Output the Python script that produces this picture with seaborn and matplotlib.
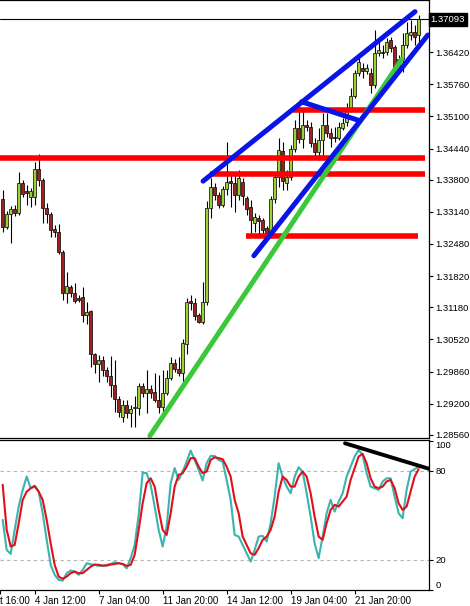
import matplotlib
matplotlib.use('Agg')
import matplotlib.pyplot as plt
import seaborn as sns

# H4 candles (open, high, low, close)
opens = [1.3340, 1.3283, 1.3310, 1.3320, 1.3312, 1.3373, 1.3357, 1.3344, 1.3344, 1.3402,
         1.3379, 1.3322, 1.3310, 1.3279, 1.3273, 1.3232, 1.3147, 1.3160, 1.3147, 1.3137,
         1.3139, 1.3102, 1.3110, 1.3022, 1.3002, 1.3010, 1.2989, 1.2977, 1.2959, 1.2930,
         1.2893, 1.2917, 1.2901, 1.2911, 1.2911, 1.2956, 1.2942, 1.2950, 1.2944, 1.2928,
         1.2913, 1.2942, 1.2973, 1.3004, 1.2991, 1.2983, 1.3043, 1.3131, 1.3127, 1.3102,
         1.3088, 1.3129, 1.3322, 1.3365, 1.3349, 1.3328, 1.3361, 1.3377, 1.3373, 1.3349,
         1.3375, 1.3342, 1.3324, 1.3291, 1.3301, 1.3297, 1.3281, 1.3271, 1.3340, 1.3386,
         1.3439, 1.3373, 1.3386, 1.3443, 1.3486, 1.3464, 1.3492, 1.3488, 1.3455, 1.3437,
         1.3461, 1.3492, 1.3476, 1.3468, 1.3466, 1.3486, 1.3498, 1.3527, 1.3552, 1.3599,
         1.3609, 1.3603, 1.3599, 1.3574, 1.3640, 1.3642, 1.3642, 1.3667, 1.3652, 1.3611,
         1.3628, 1.3657, 1.3677, 1.3683, 1.3677]
highs = [1.3359, 1.3316, 1.3326, 1.3328, 1.3396, 1.3379, 1.3369, 1.3363, 1.3416, 1.3433,
         1.3383, 1.3332, 1.3314, 1.3287, 1.3289, 1.3235, 1.3191, 1.3164, 1.3168, 1.3143,
         1.3160, 1.3129, 1.3112, 1.3024, 1.3020, 1.3018, 1.2995, 1.3018, 1.3010, 1.2936,
         1.2928, 1.2928, 1.2917, 1.2936, 1.2963, 1.2963, 1.2989, 1.2959, 1.2983, 1.2979,
         1.2989, 1.2989, 1.3016, 1.3012, 1.3016, 1.3053, 1.3137, 1.3143, 1.3137, 1.3106,
         1.3170, 1.3336, 1.3383, 1.3373, 1.3355, 1.3367, 1.3457, 1.3394, 1.3390, 1.3400,
         1.3383, 1.3347, 1.3338, 1.3312, 1.3308, 1.3301, 1.3285, 1.3347, 1.3396, 1.3466,
         1.3457, 1.3400, 1.3451, 1.3503, 1.3533, 1.3523, 1.3503, 1.3498, 1.3466, 1.3486,
         1.3517, 1.3517, 1.3486, 1.3488, 1.3498, 1.3507, 1.3537, 1.3568, 1.3605, 1.3630,
         1.3620, 1.3618, 1.3609, 1.3687, 1.3671, 1.3657, 1.3671, 1.3673, 1.3657, 1.3636,
         1.3681, 1.3704, 1.3708, 1.3698, 1.3718]
lows = [1.3273, 1.3279, 1.3250, 1.3305, 1.3308, 1.3344, 1.3328, 1.3324, 1.3328, 1.3367,
        1.3291, 1.3291, 1.3262, 1.3262, 1.3227, 1.3133, 1.3127, 1.3139, 1.3127, 1.3129,
        1.3088, 1.3084, 1.2995, 1.2983, 1.2965, 1.2977, 1.2965, 1.2934, 1.2903, 1.2893,
        1.2883, 1.2891, 1.2872, 1.2872, 1.2897, 1.2934, 1.2901, 1.2932, 1.2924, 1.2901,
        1.2903, 1.2938, 1.2969, 1.2985, 1.2977, 1.2963, 1.3022, 1.3113, 1.3092, 1.3086,
        1.3084, 1.3123, 1.3301, 1.3338, 1.3322, 1.3324, 1.3349, 1.3324, 1.3314, 1.3338,
        1.3328, 1.3308, 1.3271, 1.3273, 1.3262, 1.3266, 1.3264, 1.3264, 1.3332, 1.3365,
        1.3359, 1.3359, 1.3379, 1.3437, 1.3455, 1.3445, 1.3480, 1.3447, 1.3427, 1.3420,
        1.3420, 1.3468, 1.3447, 1.3457, 1.3461, 1.3482, 1.3490, 1.3519, 1.3548, 1.3593,
        1.3589, 1.3597, 1.3558, 1.3568, 1.3634, 1.3630, 1.3636, 1.3642, 1.3591, 1.3601,
        1.3601, 1.3650, 1.3667, 1.3657, 1.3663]
closes = [1.3283, 1.3310, 1.3320, 1.3312, 1.3373, 1.3351, 1.3353, 1.3357, 1.3402, 1.3379,
          1.3322, 1.3310, 1.3277, 1.3273, 1.3232, 1.3147, 1.3162, 1.3147, 1.3131, 1.3133,
          1.3102, 1.3108, 1.3022, 1.3002, 1.3010, 1.2989, 1.2977, 1.2959, 1.2930, 1.2903,
          1.2917, 1.2901, 1.2909, 1.2913, 1.2956, 1.2942, 1.2950, 1.2942, 1.2928, 1.2913,
          1.2942, 1.2973, 1.3004, 1.2991, 1.2983, 1.3045, 1.3129, 1.3127, 1.3100, 1.3088,
          1.3129, 1.3322, 1.3365, 1.3349, 1.3328, 1.3361, 1.3375, 1.3373, 1.3349, 1.3383,
          1.3347, 1.3320, 1.3297, 1.3303, 1.3295, 1.3277, 1.3271, 1.3340, 1.3386, 1.3441,
          1.3377, 1.3386, 1.3443, 1.3486, 1.3464, 1.3492, 1.3488, 1.3455, 1.3437, 1.3461,
          1.3492, 1.3476, 1.3466, 1.3466, 1.3488, 1.3496, 1.3527, 1.3552, 1.3599, 1.3622,
          1.3603, 1.3609, 1.3574, 1.3640, 1.3646, 1.3640, 1.3663, 1.3650, 1.3611, 1.3628,
          1.3657, 1.3681, 1.3683, 1.3673, 1.37093]

# Stochastic oscillator: main (%K) and signal (%D)
stoch_k = [46.9, 26.7, 24.1, 40.2, 55.9, 67.1, 76.0, 68.2, 69.3, 65.9,
           51.4, 33.5, 16.7, 10.0, 6.6, 6.1, 11.1, 12.9, 12.2, 10.0,
           13.3, 17.8, 17.1, 16.7, 16.0, 16.0, 16.7, 17.3, 18.5, 17.8,
           17.1, 14.4, 21.2, 30.1, 50.3, 78.7, 78.3, 70.4, 55.9, 40.2,
           29.0, 42.4, 71.6, 81.7, 73.8, 79.4, 86.1, 93.5, 87.2, 80.5,
           73.4, 85.0, 89.9, 89.9, 87.2, 86.1, 73.8, 60.4, 36.8, 35.7,
           30.1, 24.5, 18.9, 26.7, 35.7, 36.2, 32.4, 44.7, 62.6, 85.0,
           76.0, 69.3, 64.8, 76.0, 82.3, 79.4, 64.8, 49.1, 31.2, 21.2,
           35.7, 51.4, 60.4, 52.5, 59.2, 64.8, 76.0, 82.7, 89.5, 93.9,
           90.6, 78.3, 69.3, 68.2, 67.1, 72.7, 74.9, 74.9, 62.6, 51.4,
           48.0, 67.1, 79.4, 81.0, 82.7]
stoch_d = [70.5, 40.2, 29.0, 30.1, 44.7, 60.4, 65.9, 68.2, 69.8, 65.9,
           60.4, 46.9, 31.2, 16.7, 8.8, 7.3, 8.8, 11.1, 12.2, 11.1,
           11.1, 13.3, 15.5, 16.9, 16.7, 16.2, 16.2, 16.9, 17.3, 17.8,
           17.3, 16.0, 16.7, 23.4, 40.2, 58.1, 71.6, 74.9, 69.3, 53.6,
           40.2, 36.8, 51.4, 69.3, 77.2, 78.3, 82.7, 88.4, 88.4, 82.7,
           78.3, 79.4, 87.2, 89.0, 88.4, 87.7, 82.7, 76.0, 60.4, 51.4,
           35.7, 30.1, 24.5, 23.4, 27.9, 33.5, 35.7, 40.2, 49.1, 65.9,
           76.0, 73.8, 69.3, 69.3, 76.0, 79.4, 76.0, 64.8, 49.1, 35.7,
           33.5, 44.7, 53.6, 57.0, 55.9, 59.2, 62.6, 73.8, 81.7, 89.5,
           91.3, 85.0, 74.9, 69.3, 68.2, 69.3, 72.7, 73.8, 68.2, 58.1,
           53.6, 55.9, 65.9, 76.0, 81.0]

price_ticks = [1.36420, 1.35760, 1.35100, 1.34440, 1.33800, 1.33140, 1.32480,
               1.31820, 1.31180, 1.30520, 1.29860, 1.29200, 1.28560]
last_price = 1.37093
stoch_ticks = [0, 20, 80, 100]
date_ticks = [-0.6, 8, 24, 40, 56, 72, 88]
date_labels = ['t 16:00', '4 Jan 12:00', '7 Jan 04:00', '11 Jan 20:00',
               '14 Jan 12:00', '19 Jan 04:00', '21 Jan 20:00']

# drawn objects: support/resistance levels (price, from bar, to bar)
level_prices = [1.3425, 1.3391, 1.3523, 1.3265]
level_starts = [-0.7, 51.8, 72.6, 60.8]
level_ends = [105.6, 105.6, 105.6, 103.8]
# trend lines: ((bar, price), (bar, price))
blue_lines = [((50.1, 1.3377), (103.1, 1.3725)),
              ((62.8, 1.3224), (106.3, 1.3677)),
              ((74.75, 1.3540), (89.3, 1.3501))]
green_line = ((36.8, 1.2854), (99.75, 1.3627))
stoch_line = ((85.6, 98.4), (106.8, 81.1))

sns.set_style('white')
plt.rcParams['font.family'] = ['Liberation Sans', 'DejaVu Sans']
plt.rcParams['font.size'] = 7

fig = plt.figure(figsize=(4.7, 6.06), dpi=100)
ax1 = fig.add_axes([0, 0.2772, 0.9128, 0.7228])
ax2 = fig.add_axes([0, 0.0264, 0.9128, 0.2475])

bars = list(range(len(opens)))
xlim = (-0.675, 106.6)

# candles
ax1.vlines(bars, lows, highs, color='black', lw=0.8, zorder=2)
bottoms = [min(o, c) for o, c in zip(opens, closes)]
heights = [max(abs(c - o), 0.00006) for o, c in zip(opens, closes)]
colors = ['#9bd431' if c >= o else '#a41f1f' for o, c in zip(opens, closes)]
ax1.bar(bars, heights, bottom=bottoms, width=0.72, color=colors,
        edgecolor='black', linewidth=0.5, zorder=3)

ax1.axhline(last_price, color='black', lw=0.8, zorder=1)

for p, s, e in zip(level_prices, level_starts, level_ends):
    ax1.plot([s, e], [p, p], color='#ff0000', lw=4.0, solid_capstyle='butt', zorder=4)
(gx0, gy0), (gx1, gy1) = green_line
ax1.plot([gx0, gx1], [gy0, gy1], color='#3cc83c', lw=3.6, solid_capstyle='round', zorder=5)
for (bx0, by0), (bx1, by1) in blue_lines:
    ax1.plot([bx0, bx1], [by0, by1], color='#0a14e6', lw=3.6, solid_capstyle='round', zorder=6)

ax1.set_xlim(*xlim)
ax1.set_ylim(1.28497, 1.37489)
ax1.yaxis.tick_right()
ax1.set_yticks(price_ticks)
ax1.set_yticklabels([f'{t:.5f}' for t in price_ticks])
ax1.tick_params(axis='y', direction='out', length=3, width=0.8, pad=1.5,
                labelsize=6.8, colors='black', right=True)
ax1.set_xticks([])
ax1.text(1.004, last_price, f'{last_price:.5f}', transform=ax1.get_yaxis_transform(),
         ha='left', va='center', color='white', fontsize=6.8,
         bbox=dict(facecolor='black', edgecolor='black', pad=1.5), clip_on=False)

# stochastic panel
ax2.axhline(80, color='#b4b4b4', lw=0.8, ls=(0, (3, 3)))
ax2.axhline(20, color='#b4b4b4', lw=0.8, ls=(0, (3, 3)))
sns.lineplot(x=bars, y=stoch_k, ax=ax2, color='#3bb3ae', lw=1.5)
sns.lineplot(x=bars, y=stoch_d, ax=ax2, color='#e0101a', lw=1.5)
(sx0, sy0), (sx1, sy1) = stoch_line
ax2.plot([sx0, sx1], [sy0, sy1], color='black', lw=2.8, solid_capstyle='round')
ax2.set_xlim(*xlim)
ax2.set_ylim(-0.2, 100.6)
ax2.set_xlabel('')
ax2.set_ylabel('')
ax2.yaxis.tick_right()
ax2.set_yticks(stoch_ticks)
ax2.set_yticklabels([str(t) for t in stoch_ticks])
ylabs = ax2.get_yticklabels()
ylabs[0].set_va('bottom')
ylabs[-1].set_va('top')
ax2.tick_params(axis='y', direction='out', length=3, width=0.8, pad=1.5,
                labelsize=6.8, colors='black', right=True)
ax2.set_xticks(date_ticks)
ax2.set_xticklabels(date_labels)
for lab in ax2.get_xticklabels():
    lab.set_ha('left')
ax2.tick_params(axis='x', direction='out', length=3, width=0.8, pad=1,
                labelsize=7, colors='black', bottom=True)

for ax in (ax1, ax2):
    for side in ('top', 'right', 'bottom'):
        ax.spines[side].set_visible(True)
        ax.spines[side].set_color('black')
        ax.spines[side].set_linewidth(0.9)
    ax.spines['left'].set_visible(False)
    ax.set_facecolor('white')

fig.savefig('out.png', dpi=100, facecolor='white')
